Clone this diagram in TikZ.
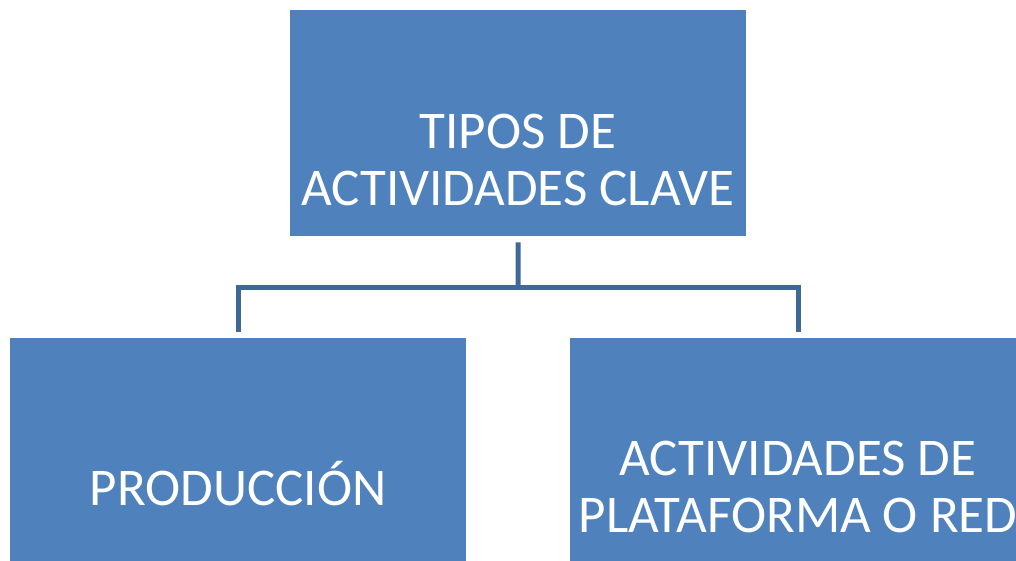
\documentclass[tikz,border=0pt]{standalone}
\usepackage{fontspec}
\setmainfont{Carlito}
\definecolor{cajaazul}{HTML}{4F81BD}
\definecolor{lineaazul}{HTML}{3F6797}

\begin{document}
\begin{tikzpicture}[x=1pt,y=-1pt,
  caja/.style={fill=cajaazul, draw=none, minimum width=456pt, inner sep=0pt, anchor=north west},
  texto/.style={text=white, align=center, inner sep=0pt, anchor=base, font=\fontsize{53}{57}\selectfont},
  conector/.style={draw=lineaazul, line width=5pt}]
\useasboundingbox (0,0) rectangle (1016,560);
\clip (0,0) rectangle (1016,560);

% cajas
\node[caja, minimum height=226pt] (tipos) at (290,10) {};
\node[caja, minimum height=300pt] (produccion) at (10,338) {};
\node[caja, minimum height=300pt] (plataforma) at (570,338) {};

% textos
\node[texto] (tiposT) at (518,205) {TIPOS DE\\ACTIVIDADES CLAVE};
\node[texto] (produccionT) at (238,505) {PRODUCCIÓN};
\node[texto] (plataformaT) at (798,532) {ACTIVIDADES DE\\PLATAFORMA O RED};

% conectores
\coordinate (bus) at (518,287);
\draw[conector] ([yshift=-6pt]tipos.south) -- (bus);
\draw[conector] ([yshift=6pt]produccion.north) |- (bus) -| ([yshift=6pt]plataforma.north);

\end{tikzpicture}
\end{document}
